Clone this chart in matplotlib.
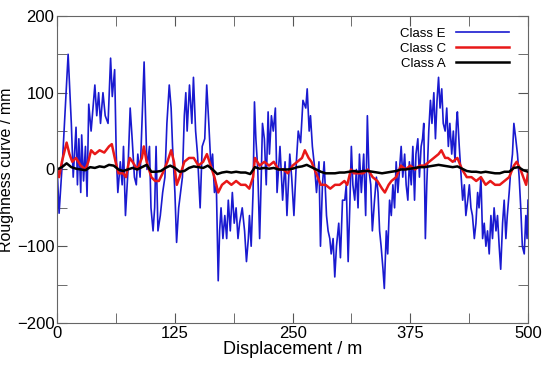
import numpy as np
import matplotlib
matplotlib.use("Agg")
import matplotlib.pyplot as plt
from matplotlib.ticker import MultipleLocator

plt.rcParams['font.family'] = ['Liberation Sans', 'DejaVu Sans']

# Class E (irregular spacing)
dist_e = [0, 2, 6, 11.6, 13.5, 15, 17, 20, 21.5, 23, 25, 26, 28, 30, 31.7, 33.5, 36, 40, 42, 44, 46,
          48.6, 51, 54, 56.7, 58.5, 61, 62.7, 64.4, 67, 69, 70.4, 72.5, 75, 77.5, 79.6, 82, 84, 85.6,
          88, 90, 92.3, 94, 95.4, 98, 99.6, 101.8, 103.5, 105, 107, 109.5, 112, 114.4, 116.5, 119,
          121, 122.5, 125, 126.8, 129, 131, 133, 135, 136.6, 138, 140.5, 143, 144.7, 147, 149, 151.8,
          154, 156.7, 158.8, 161, 163.4, 165, 167, 169, 171, 172.5, 174, 176, 178, 180, 181.7, 183.8,
          186, 188, 190, 192, 193.7, 196.5, 199, 201, 203, 204.2, 206, 208, 209.5, 211, 213, 215,
          216.5, 218, 220, 222, 224, 225.4, 227.5, 229.5, 231.7, 233.5, 236.6, 239.4, 242, 244, 247,
          249, 251.4, 254, 256, 258.5, 261, 264, 265.5, 267.6, 269, 271, 273.6, 275.4, 278, 279.6,
          281.7, 283.5, 286, 287.7, 289.5, 291, 293, 294.8, 296.6, 299, 300.8, 303, 305.4, 307, 309,
          310.7, 312.4, 314, 316, 317.7, 319.5, 321, 323, 325.5, 327.6, 329.4, 331, 333, 334.7, 337,
          339, 340.7, 342.4, 344, 346, 347.4, 349.5, 351, 353, 354.8, 356.5, 358.3, 360, 361.8, 363.6,
          365.3, 367, 369, 370.6, 372.4, 374, 376, 377.7, 379.5, 381, 383, 384.7, 386.5, 388, 389.3,
          391, 392.5, 394.6, 396.4, 398, 400, 401.7, 403.4, 405, 406.6, 408.4, 410, 412, 413.7, 415.4,
          417, 419, 420.7, 422.5, 424, 425, 427, 429, 430.6, 432.4, 434, 436, 437.7, 439.4, 441, 443,
          444.7, 446.5, 448, 450, 451.8, 453.5, 455.3, 457, 458.8, 460.6, 462.3, 464, 466, 467.6,
          469.4, 471, 473, 474.7, 476.5, 478, 480, 481.7, 483.5, 485, 487, 488.8, 490.6, 492.3, 494,
          496, 497.7, 499, 500]
class_e = [0, -57, 20, 150, 100, 60, -10, 55, -20, 40, -30, 45, -15, 30, -35, 85, 50, 110, 70, 100, 60,
           100, 70, 60, 145, 95, 130, 20, -30, 10, -20, 30, -60, -5, 80, 40, -10, -20, 20,
           -10, 60, 140, 60, 0, 30, -50, -80, -50, 30, -80, -60, -30, -10, 60, 110,
           80, 30, -30, -95, -50, -30, -10, 70, 100, 50, 110, 60, 120, 50, 20, -50,
           30, 40, 110, 60, 0, 20, -30, -20, -145, -80, -50, -90, -60, -90, -40, -80,
           -30, -70, -50, -90, -70, -50, -80, -120, -90, -60, -100, -30, 88, 40, 0, -90,
           -20, 60, 40, -20, 75, 20, 70, 50, 80, -30, 30, -40, 10, -60, 20,
           -10, -60, 10, 50, 35, 90, 80, 105, 50, 70, 30, 0, -30, 10, -100,
           -20, 10, -60, -80, -90, -110, -90, -140, -100, -70, -115, -40, -40, -20, -120,
           -50, 30, -20, -40, 0, -50, 20, -30, 20, -60, 70, 0, -20, -80, -40,
           -10, -30, -80, -100, -130, -155, -80, -110, -40, -60, -20, -50, 10, -30, 0,
           30, -10, 20, -20, -40, 10, -20, 30, -40, 20, 40, -10, 30, 40, 60,
           -90, -20, 50, 90, 60, 100, 40, 90, 120, 80, 105, 60, 50, 80, 30,
           60, 20, 50, 10, 60, 75, 30, -10, -40, -20, -60, -40, -20, -50, -60, -90,
           -70, -30, -50, -10, -90, -70, -100, -80, -110, -60, -90, -50, -80, -60,
           -100, -130, -70, -40, -90, -60, -30, 0, 20, 60, 40, 20, -10, -50, -100,
           -110, -60, -90, -40]

# Class C
dist_c = [0, 2, 5, 10, 13, 16, 20, 25, 30, 33, 36, 40, 45, 50, 55, 58, 62, 65, 70, 73, 77, 80, 85, 90,
          92, 95, 100, 104, 108, 112, 117, 121, 124, 127, 130, 135, 140, 145, 150, 155, 159, 163, 167,
          171, 175, 180, 185, 190, 195, 200, 204, 208, 210, 215, 220, 225, 230, 235, 240, 245, 250,
          255, 260, 263, 267, 270, 275, 280, 285, 290, 295, 300, 305, 308, 312, 315, 320, 325, 330,
          335, 340, 345, 348, 352, 355, 360, 365, 370, 375, 380, 385, 390, 395, 400, 405, 408, 412,
          415, 420, 425, 430, 435, 440, 445, 450, 455, 460, 465, 470, 475, 480, 485, 488, 492, 495,
          498, 500]
class_c = [0, -10, 10, 35, 20, 10, 15, 5, 0, 10, 25, 20, 25, 22, 30, 33, 10, -5, -5, -10, 15, 10, 0, 15,
           30, 10, -10, -15, -15, -5, 10, 25, 10, -20, -10, 10, 15, 15, 5, 10, 20, 5, -10,
           -30, -20, -15, -20, -15, -20, -20, -25, -10, 15, 5, 10, 5, 10, 0, 0, -5, 5,
           10, 15, 25, 15, 10, -5, -20, -20, -25, -20, -20, -15, -20, 0, -5, -5, -5, 0,
           -10, -15, -25, -30, -20, -15, -10, 5, 0, 5, 0, 5, 5, 10, 15, 20, 25, 15,
           15, 10, 15, 0, -10, -10, -15, -10, -20, -15, -20, -20, -15, -10, 5, 10, 0, -10,
           -20, -5]

# Class A
dist_a = list(range(0, 501, 5))
class_a = [0, 3, 8, 3, 1, 0, -1, 3, 2, 4, 3, 6, 5, 0, -2, 0, 2, 0, 3, 6, -3, -3, -2, 2, 5, 2,
           -3, -2, 2, 4, 3, 2, 5, 0, -6, -4, -3, -4, -3, -4, -4, -6, 3, 1, 2, 1, 2, 0, 0, 0,
           1, 3, 4, 6, 3, 0, -3, -5, -5, -5, -4, -4, -3, -2, -3, -2, -2, -3, -4, -5, -4, -3, -2,
           0, 0, 1, 2, 3, 3, 4, 5, 6, 5, 4, 3, 4, 1, -2, -3, -3, -4, -3, -4, -5, -5, -3, -3, 2,
           3, -1, -3]

fig = plt.figure(figsize=(5.5, 3.7), dpi=100)
ax = fig.add_axes([0.104, 0.127, 0.856, 0.83])

ax.plot(dist_e, class_e, color='#1a1ad0', lw=1.2, label='Class E')
ax.plot(dist_c, class_c, color='#e81818', lw=1.8, label='Class C')
ax.plot(dist_a, class_a, color='black', lw=1.8, label='Class A')

ax.set_xlim(0, 500)
ax.set_ylim(-200, 200)
ax.set_xticks([0, 125, 250, 375, 500])
ax.set_yticks([-200, -100, 0, 100, 200])
ax.xaxis.set_minor_locator(MultipleLocator(62.5))
ax.yaxis.set_minor_locator(MultipleLocator(50))
ax.tick_params(which='both', direction='in', top=True, right=True, colors='#555555',
               labelcolor='black', labelsize=12, pad=2)
ax.tick_params(which='major', length=7)
ax.tick_params(which='minor', length=7)
for s in ax.spines.values():
    s.set_color('#666666')

ax.set_xlabel('Displacement / m', fontsize=13, labelpad=0)
ax.set_ylabel('Roughness curve / mm', fontsize=11.5, labelpad=2)

ax.legend(loc='upper right', frameon=False, markerfirst=False, fontsize=9.5,
          handlelength=4.0, labelspacing=0.2, bbox_to_anchor=(0.985, 1.0))

fig.savefig('out.png', dpi=100)
